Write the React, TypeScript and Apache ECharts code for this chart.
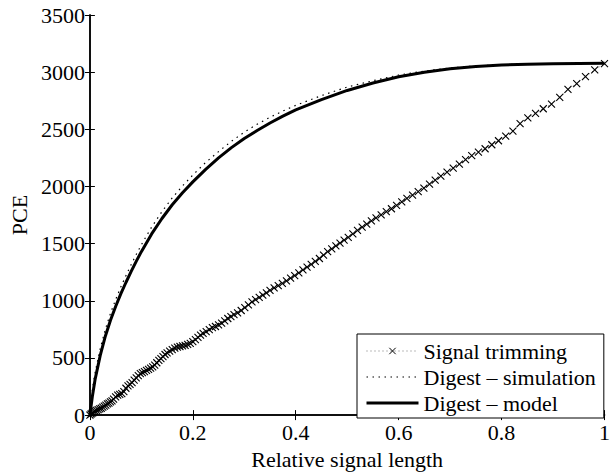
import React, { useEffect, useRef } from "react";
import * as echarts from "echarts";

const FONT = "'Liberation Serif', 'Times New Roman', serif";

const seriesNames = ["Signal trimming", "Digest \u2013 simulation", "Digest \u2013 model"];

const xTicks = { min: 0, max: 1, interval: 0.2 };
const yTicks = { min: 0, max: 3500, interval: 500 };

const trimX = [
  0, 0.002, 0.004, 0.006, 0.008, 0.01, 0.013, 0.016, 0.019, 0.022, 0.025, 0.028, 0.031, 0.034, 0.037, 0.04,
  0.043, 0.046, 0.05, 0.054, 0.058, 0.062, 0.066, 0.07, 0.074, 0.078, 0.082, 0.086, 0.09, 0.094, 0.098,
  0.102, 0.106, 0.11, 0.114, 0.118, 0.122, 0.126, 0.13, 0.134, 0.138, 0.142, 0.146, 0.15, 0.155, 0.16,
  0.165, 0.17, 0.175, 0.18, 0.185, 0.19, 0.195, 0.2, 0.205, 0.21, 0.215, 0.22, 0.226, 0.232, 0.238, 0.244,
  0.25, 0.256, 0.262, 0.268, 0.274, 0.28, 0.287, 0.294, 0.301, 0.308, 0.315, 0.322, 0.329, 0.336, 0.343,
  0.35, 0.358, 0.366, 0.374, 0.382, 0.39, 0.398, 0.406, 0.414, 0.422, 0.43, 0.438, 0.446, 0.454, 0.462,
  0.47, 0.478, 0.486, 0.494, 0.502, 0.511, 0.52, 0.529, 0.538, 0.547, 0.556, 0.566, 0.576, 0.586, 0.596,
  0.606, 0.616, 0.627, 0.638, 0.649, 0.66, 0.671, 0.682, 0.694, 0.706, 0.718, 0.73, 0.742, 0.755, 0.768,
  0.781, 0.794, 0.808, 0.822, 0.836, 0.851, 0.866, 0.881, 0.897, 0.913, 0.929, 0.946, 0.963, 0.981, 1.0,
];
const trimY = [
  0, 8, 15, 22, 30, 36, 42, 48, 55, 60, 70, 78, 88, 98, 105, 115,
  125, 140, 160, 175, 182, 188, 205, 235, 255, 268, 285, 305, 325, 345, 362,
  372, 380, 392, 400, 410, 422, 438, 458, 478, 495, 512, 530, 545, 560, 572,
  585, 595, 600, 605, 610, 618, 628, 642, 660, 680, 700, 715, 730, 748, 765, 775,
  790, 805, 825, 845, 862, 878, 895, 915, 940, 965, 990, 1010, 1030, 1050, 1070,
  1092, 1112, 1132, 1152, 1175, 1198, 1220, 1245, 1270, 1295, 1318, 1345, 1370, 1400, 1430,
  1455, 1480, 1505, 1530, 1555, 1585, 1615, 1645, 1670, 1700, 1725, 1752, 1780, 1805, 1835,
  1865, 1895, 1925, 1955, 1985, 2020, 2055, 2090, 2125, 2160, 2195, 2235, 2270, 2300, 2330,
  2365, 2400, 2440, 2485, 2550, 2600, 2640, 2680, 2720, 2780, 2850, 2900, 2960, 3020, 3075,
];

const curveX = [
  0, 0.005, 0.01, 0.02, 0.03, 0.04, 0.05, 0.06, 0.07, 0.08, 0.09, 0.1, 0.12, 0.14, 0.16, 0.18, 0.2,
  0.225, 0.25, 0.275, 0.3, 0.325, 0.35, 0.375, 0.4, 0.45, 0.5, 0.55, 0.6, 0.65, 0.7, 0.75, 0.8,
  0.85, 0.9, 0.95, 1.0,
];
const simY = [
  0, 230, 370, 580, 750, 890, 1010, 1120, 1220, 1315, 1405, 1490, 1645, 1780, 1900, 2005, 2100,
  2210, 2305, 2395, 2475, 2545, 2605, 2660, 2710, 2795, 2870, 2925, 2975, 3010, 3037, 3055, 3066,
  3072, 3075, 3077, 3077,
];
const modelY = [
  0, 170, 310, 520, 690, 830, 950, 1060, 1160, 1255, 1345, 1430, 1585, 1720, 1840, 1945, 2040,
  2150, 2250, 2340, 2420, 2490, 2555, 2615, 2670, 2760, 2840, 2905, 2960, 3000, 3030, 3050, 3063,
  3070, 3074, 3076, 3077,
];

const pairs = (xs: number[], ys: number[]) => xs.map((x, i) => [x, ys[i]]);

const axisCommon = {
  type: "value",
  axisLine: { show: true, lineStyle: { color: "#000", width: 1.5 } },
  axisTick: { show: true, inside: true, length: 5, lineStyle: { color: "#000", width: 1 } },
  splitLine: { show: false },
};

export default function App() {
  const ref = useRef<HTMLDivElement>(null);
  useEffect(() => {
    if (!ref.current) return;
    const chart = echarts.init(ref.current, undefined, { renderer: "svg" });
    const labelStyle = { fontFamily: FONT, fontSize: 22, color: "#000" };
    chart.setOption({
      animation: false,
      backgroundColor: "#fff",
      textStyle: { fontFamily: FONT, color: "#000" },
      grid: { left: 89, right: 4, top: 15, bottom: 49, containLabel: false },
      xAxis: [
        {
          ...axisCommon,
          ...xTicks,
          position: "bottom",
          name: "Relative signal length",
          nameLocation: "middle",
          nameGap: 29,
          nameTextStyle: labelStyle,
          axisLabel: { ...labelStyle, margin: 6, formatter: (v: number) => String(v) },
        },
        { ...axisCommon, ...xTicks, position: "top", axisLabel: { show: false } },
      ],
      yAxis: [
        {
          ...axisCommon,
          ...yTicks,
          position: "left",
          name: "PCE",
          nameLocation: "middle",
          nameGap: 58,
          nameTextStyle: labelStyle,
          axisLabel: { ...labelStyle, margin: 5, formatter: (v: number) => String(v) },
        },
        { ...axisCommon, ...yTicks, position: "right", axisLabel: { show: false } },
      ],
      legend: {
        orient: "vertical",
        left: 357,
        top: 334,
        padding: [6, 8, 4, 8],
        itemGap: 4,
        itemWidth: 52,
        itemHeight: 8,
        borderColor: "#000",
        borderWidth: 1,
        borderRadius: 0,
        backgroundColor: "#fff",
        textStyle: { fontFamily: FONT, fontSize: 22, color: "#000" },
        data: [
          {
            name: seriesNames[0],
            itemStyle: { color: "rgba(0,0,0,0)", borderColor: "#000", borderWidth: 1 },
            lineStyle: { color: "#777", width: 1, type: [1, 3] },
          },
          {
            name: seriesNames[1],
            itemStyle: { color: "rgba(0,0,0,0)", borderWidth: 0 },
            lineStyle: { color: "#000", width: 1.2, type: [1.5, 4.5] },
          },
          {
            name: seriesNames[2],
            itemStyle: { color: "rgba(0,0,0,0)", borderWidth: 0 },
            lineStyle: { color: "#000", width: 3 },
          },
        ],
      },
      series: [
        {
          name: seriesNames[0],
          type: "line",
          data: pairs(trimX, trimY),
          symbol: "path://M0 0L10 10M10 0L0 10",
          symbolSize: 7,
          showAllSymbol: true,
          itemStyle: { color: "rgba(0,0,0,0)", borderColor: "#000", borderWidth: 1.1 },
          lineStyle: { color: "#777", width: 1, type: [1, 3] },
          z: 2,
        },
        {
          name: seriesNames[1],
          type: "line",
          data: pairs(curveX, simY),
          symbol: "none",
          itemStyle: { color: "rgba(0,0,0,0)", borderWidth: 0 },
          lineStyle: { color: "#000", width: 1.2, type: [1.5, 4.5] },
          z: 3,
        },
        {
          name: seriesNames[2],
          type: "line",
          data: pairs(curveX, modelY),
          symbol: "none",
          itemStyle: { color: "rgba(0,0,0,0)", borderWidth: 0 },
          lineStyle: { color: "#000", width: 3 },
          z: 4,
        },
      ],
    });
    return () => chart.dispose();
  }, []);
  return (
    <div
      ref={ref}
      style={{ position: "fixed", left: 0, top: 0, width: 613, height: 475 }}
    />
  );
}
